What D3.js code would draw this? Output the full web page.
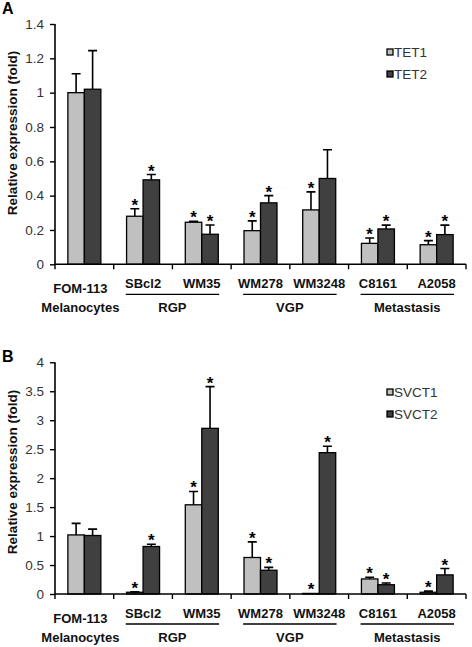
<!DOCTYPE html>
<html><head><meta charset="utf-8">
<script src="https://cdn.jsdelivr.net/npm/d3@7"></script>
<style>
html,body{margin:0;padding:0;background:#fff;}
svg{display:block;font-family:"Liberation Sans",Arial,sans-serif;}
</style></head>
<body>
<svg id="chart" width="472" height="647"></svg>
<script>
// ---- data ----
const categories = ["FOM-113", "SBcl2", "WM35", "WM278", "WM3248", "C8161", "A2058"];
const groups = [
  {name: "RGP", cats: ["SBcl2", "WM35"]},
  {name: "VGP", cats: ["WM278", "WM3248"]},
  {name: "Metastasis", cats: ["C8161", "A2058"]}
];
const seriesA = ["TET1", "TET2"];
const tet1 = [1.00, 0.28, 0.245, 0.196, 0.317, 0.122, 0.114];
const tet1Err = [0.11, 0.044, 0.006, 0.057, 0.105, 0.031, 0.024];
const tet2 = [1.02, 0.492, 0.175, 0.358, 0.50, 0.206, 0.173];
const tet2Err = [0.225, 0.031, 0.054, 0.042, 0.167, 0.022, 0.055];
const starsTet1 = [false, true, true, true, true, true, true];
const starsTet2 = [false, true, true, true, false, true, true];
const ticksA = [0, 0.2, 0.4, 0.6, 0.8, 1, 1.2, 1.4];

const seriesB = ["SVCT1", "SVCT2"];
const svct1 = [1.02, 0.03, 1.54, 0.63, 0.01, 0.26, 0.03];
const svct1Err = [0.20, 0.01, 0.23, 0.27, 0, 0.03, 0.02];
const svct2 = [1.01, 0.82, 2.86, 0.41, 2.44, 0.16, 0.33];
const svct2Err = [0.11, 0.04, 0.72, 0.05, 0.11, 0.03, 0.11];
const starsSvct1 = [false, true, true, true, true, true, true];
const starsSvct2 = [false, true, true, true, true, true, true];
const ticksB = [0, 0.5, 1, 1.5, 2, 2.5, 3, 3.5, 4];

const colors = ["#c0c0c0", "#404040"];
const svg = d3.select("#chart");

function panel(cfg) {
  const g = svg.append("g");
  const x = d3.scaleBand().domain(categories).range([55, 466]).padding(0);
  const y = d3.scaleLinear().domain([0, cfg.max]).range([cfg.y0, cfg.yTop]);
  const x1 = d3.scaleBand().domain(cfg.series).range([0, x.bandwidth()]).paddingInner(0).paddingOuter(0.78);

  // y axis
  const yAxis = g.append("g").attr("transform", "translate(55,0)")
    .call(d3.axisLeft(y).tickValues(cfg.ticks).tickSize(5).tickPadding(6).tickFormat(d => String(d)));
  yAxis.select(".domain").attr("stroke", "#000").attr("stroke-width", 1.6).attr("d", `M0,${cfg.yTop}V${cfg.y0}`);
  yAxis.selectAll(".tick line").attr("stroke", "#000").attr("stroke-width", 1.4);
  yAxis.selectAll(".tick text").attr("font-size", 13.5).attr("fill", "#333").attr("font-family", "Liberation Sans, Arial, sans-serif");

  // bars
  cfg.series.forEach((s, si) => {
    const vals = cfg.values[si], errs = cfg.errs[si], stars = cfg.stars[si];
    const data = categories.map((c, i) => ({c, v: vals[i], e: errs[i], s: stars[i]}));
    g.selectAll(null).data(data).enter().append("rect")
      .attr("x", d => x(d.c) + x1(s))
      .attr("y", d => y(d.v))
      .attr("width", x1.bandwidth())
      .attr("height", d => y(0) - y(d.v))
      .attr("fill", colors[si]).attr("stroke", "#000").attr("stroke-width", 1.3);
    const eb = data.filter(d => d.e > 0);
    g.selectAll(null).data(eb).enter().append("path")
      .attr("d", d => {
        const cx = x(d.c) + x1(s) + x1.bandwidth() / 2;
        const t = y(d.v + d.e);
        return `M${cx},${y(d.v)}V${t}M${cx - 4.5},${t}H${cx + 4.5}`;
      })
      .attr("stroke", "#000").attr("stroke-width", 1.6).attr("fill", "none");
    g.selectAll(null).data(data.filter(d => d.s)).enter().append("text")
      .attr("x", d => x(d.c) + x1(s) + x1.bandwidth() / 2)
      .attr("y", d => y(d.v + d.e) + 2)
      .attr("text-anchor", "middle").attr("font-size", 17).attr("font-weight", "bold")
      .text("*");
  });

  // x axis
  const xAxisG = g.append("g");
  xAxisG.append("path").attr("d", `M55,${cfg.y0}H466`).attr("stroke", "#000").attr("stroke-width", 1.6);
  const bounds = categories.map(c => x(c)).concat([x.range()[1]]);
  xAxisG.selectAll(null).data(bounds).enter().append("path")
    .attr("d", b => `M${b},${cfg.y0}v5`).attr("stroke", "#000").attr("stroke-width", 1.4);

  // category labels
  categories.forEach((c, i) => {
    const cx = x(c) + x.bandwidth() / 2;
    if (i === 0) {
      g.append("text").attr("x", cx - 4).attr("y", cfg.y0 + 29).attr("text-anchor", "middle")
        .attr("font-size", 13).attr("font-weight", "bold").attr("fill", "#111").text(c);
      g.append("text").attr("x", cx - 4).attr("y", cfg.y0 + 48).attr("text-anchor", "middle")
        .attr("font-size", 13).attr("font-weight", "bold").attr("fill", "#111").text("Melanocytes");
    } else {
      g.append("text").attr("x", cx).attr("y", cfg.y0 + 24).attr("text-anchor", "middle")
        .attr("font-size", 13).attr("font-weight", "bold").attr("fill", "#111").text(c);
    }
  });
  groups.forEach(gr => {
    const a = x(gr.cats[0]), b = x(gr.cats[gr.cats.length - 1]) + x.bandwidth();
    g.append("path").attr("d", `M${a + 12},${cfg.y0 + 30}H${b - 12}`).attr("stroke", "#000").attr("stroke-width", 1.3);
    g.append("text").attr("x", (a + b) / 2).attr("y", cfg.y0 + 48).attr("text-anchor", "middle")
      .attr("font-size", 13).attr("font-weight", "bold").attr("fill", "#111").text(gr.name);
  });

  // y label
  g.append("text").attr("transform", `translate(17,${cfg.labelY}) rotate(-90)`)
    .attr("text-anchor", "middle").attr("font-size", 13.5).attr("font-weight", "bold").attr("fill", "#111")
    .text("Relative expression (fold)");

  // panel letter
  g.append("text").attr("x", 2).attr("y", cfg.letterY).attr("font-size", 16).attr("font-weight", "bold").text(cfg.letter);

  // legend
  cfg.series.forEach((s, si) => {
    const ly = cfg.legendY + si * 22;
    g.append("rect").attr("x", 387).attr("y", ly - 3).attr("width", 6).attr("height", 6)
      .attr("fill", colors[si]).attr("stroke", "#000").attr("stroke-width", 1.3);
    g.append("text").attr("x", 394).attr("y", ly + 5).attr("font-size", 13.5).attr("fill", "#333").text(s);
  });
}

panel({letter: "A", letterY: 14, max: 1.4, y0: 264.3, yTop: 24, ticks: ticksA, series: seriesA, labelY: 133,
  values: [tet1, tet2], errs: [tet1Err, tet2Err], stars: [starsTet1, starsTet2], legendY: 52});
panel({letter: "B", letterY: 362, max: 4, y0: 594, yTop: 362.3, ticks: ticksB, series: seriesB, labelY: 472,
  values: [svct1, svct2], errs: [svct1Err, svct2Err], stars: [starsSvct1, starsSvct2], legendY: 392});
</script>
</body></html>
